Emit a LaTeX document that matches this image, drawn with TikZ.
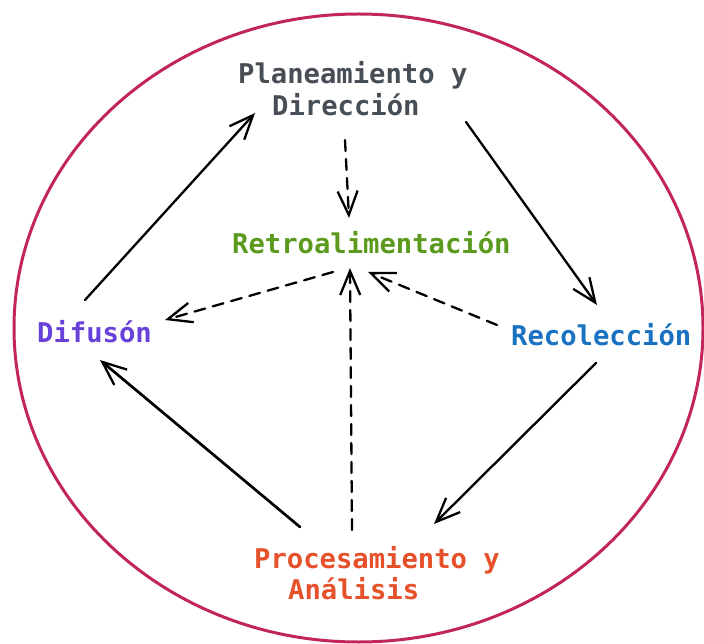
\documentclass[tikz,border=0pt]{standalone}
\usepackage{fontspec}
\setmonofont{DejaVu Sans Mono}
\usetikzlibrary{arrows.meta}

\definecolor{ringc}{HTML}{C2255C}
\definecolor{planc}{HTML}{484E55}
\definecolor{retroc}{HTML}{5C9A1E}
\definecolor{difc}{HTML}{6741D9}
\definecolor{recc}{HTML}{1971C2}
\definecolor{procc}{HTML}{E5512B}

\tikzset{
  lbl/.style={anchor=base west, inner sep=0pt, text height=22pt, text depth=6pt,
    font=\fontsize{27.2}{32}\selectfont\ttfamily\bfseries},
  flow/.style={line width=2.3pt, line cap=round,
    -{Straight Barb[length=24pt,width=20pt,line width=2.3pt]}},
  fback/.style={flow, dash pattern=on 11pt off 8pt}
}

\begin{document}
\begin{tikzpicture}[x=1pt,y=-1pt]
  \useasboundingbox (0,0) rectangle (704,644);

  % outer cycle ring
  \draw[ringc, line width=3pt] (358.5,328) ellipse [x radius=344.5, y radius=314];

  % stage labels
  \node[lbl, text=planc]  (planA) at (238,84)  {Planeamiento y};
  \node[lbl, text=planc]  (planB) at (272,116) {Dirección};
  \node[lbl, text=retroc] (retro) at (232,254) {Retroalimentación};
  \node[lbl, text=difc]   (dif)   at (37,342)  {Difusón};
  \node[lbl, text=recc]   (rec)   at (511,345) {Recolección};
  \node[lbl, text=procc]  (procA) at (254,568) {Procesamiento y};
  \node[lbl, text=procc]  (procB) at (288,599) {Análisis};

  % main cycle
  \draw[flow] ([shift={(228,38)}]planA.base west) -- ([shift={(86,-40)}]rec.base west);
  \draw[flow] ([shift={(85,18)}]rec.base west) -- ([shift={(180,-44)}]procA.base west);
  \draw[flow, line width=2.7pt] ([shift={(46,-41)}]procA.base west) -- ([shift={(63,18)}]dif.base west);
  \draw[flow] ([shift={(48,-42)}]dif.base west) -- ([shift={(-17,-3)}]planB.base west);

  % feedback links
  \draw[fback] ([shift={(73,24)}]planB.base west) -- ([shift={(117,-36)}]retro.base west);
  \draw[fback] ([shift={(101,18)}]retro.base west) -- ([shift={(128,-22)}]dif.base west);
  \draw[fback] ([shift={(-14,-20)}]rec.base west) -- ([shift={(136,18)}]retro.base west);
  \draw[fback] ([shift={(98,-38)}]procA.base west) -- ([shift={(118,14)}]retro.base west);
\end{tikzpicture}
\end{document}
